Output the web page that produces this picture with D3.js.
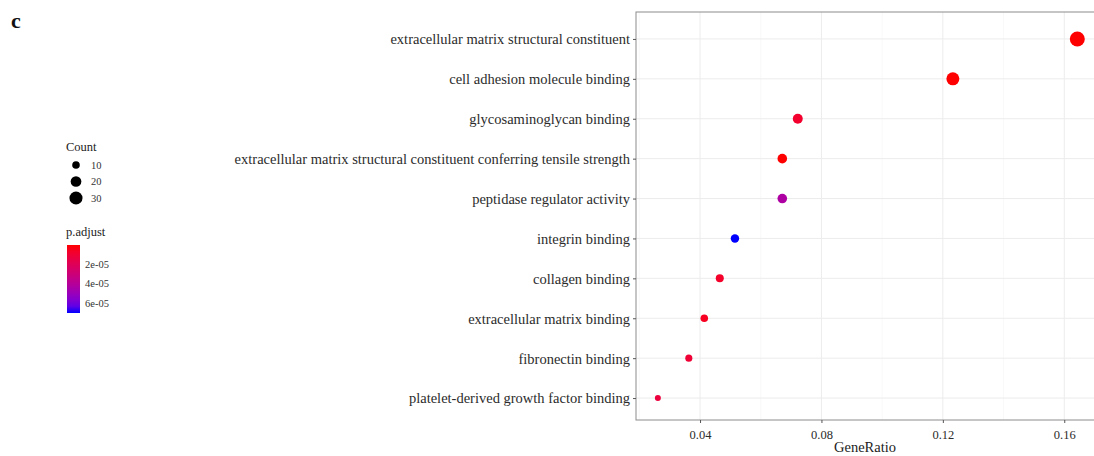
<html>
<head>
<meta charset="UTF-8">
<title>GO enrichment dot plot</title>
<script src="https://d3js.org/d3.v7.min.js"></script>
<style>
    body { margin: 0; background: #fff; font-family: 'Liberation Serif', serif; color: #333; }
    #chart svg { display: block; }
</style>
</head>
<body>
<div id="chart"></div>
<script>
// ***** DATA *****
var terms = [
    "extracellular matrix structural constituent",
    "cell adhesion molecule binding",
    "glycosaminoglycan binding",
    "extracellular matrix structural constituent conferring tensile strength",
    "peptidase regulator activity",
    "integrin binding",
    "collagen binding",
    "extracellular matrix binding",
    "fibronectin binding",
    "platelet-derived growth factor binding"
];
var geneRatio = [0.1643, 0.1233, 0.0722, 0.0671, 0.0671, 0.0515, 0.0465, 0.0414, 0.0363, 0.0261];
var counts    = [32, 24, 14, 13, 13, 10, 9, 8, 7, 5];
var pAdjust   = [1e-12, 2e-09, 8e-06, 5e-08, 4.3e-05, 7.0e-05, 7e-06, 5e-06, 1e-05, 1.2e-05];
var xTicks = [0.04, 0.08, 0.12, 0.16];
var sizeBreaks = [10, 20, 30];
var colorBreaks = [2e-05, 4e-05, 6e-05];

var width = 1094, height = 456;
var panel = { left: 636, right: 1094, top: 12, bottom: 420 };

var svg = d3.select('#chart').append('svg')
    .attr('width', width).attr('height', height);

var x = d3.scaleLinear().domain([0.0189, 0.1698]).range([panel.left, panel.right]);
// rows sit slightly lower than a symmetric layout in the source
var y = d3.scalePoint().domain(terms).range([panel.top + 3, panel.bottom + 2]).padding(0.6);
var r = d3.scaleSqrt().domain([5, 32]).range([3, 7.5]);
var pMin = d3.min(pAdjust), pMax = d3.max(pAdjust);
var color = d3.scaleLinear().domain([pMin, pMax]).range(["#ff0000", "#0000ff"])
    .interpolate(d3.interpolateLab);

var rows = terms.map(function(t, i) {
    return { term: t, ratio: geneRatio[i], count: counts[i], p: pAdjust[i] };
});

// grid
var minor = d3.range(0.02, 0.17, 0.04);
svg.append('g').selectAll('line.minor').data(minor).enter().append('line')
    .attr('x1', function(d) { return x(d); }).attr('x2', function(d) { return x(d); })
    .attr('y1', panel.top).attr('y2', panel.bottom)
    .attr('stroke', '#f4f4f4').attr('stroke-width', 0.6);
svg.append('g').selectAll('line.major').data(xTicks).enter().append('line')
    .attr('x1', function(d) { return x(d); }).attr('x2', function(d) { return x(d); })
    .attr('y1', panel.top).attr('y2', panel.bottom)
    .attr('stroke', '#ececec').attr('stroke-width', 1);
svg.append('g').selectAll('line.h').data(terms).enter().append('line')
    .attr('x1', panel.left).attr('x2', panel.right)
    .attr('y1', function(d) { return y(d); }).attr('y2', function(d) { return y(d); })
    .attr('stroke', '#ececec').attr('stroke-width', 1);

// panel border
svg.append('rect')
    .attr('x', panel.left).attr('y', panel.top)
    .attr('width', panel.right - panel.left + 2).attr('height', panel.bottom - panel.top)
    .attr('fill', 'none').attr('stroke', '#8c8c8c').attr('stroke-width', 1);

// axes
var xAxis = svg.append('g')
    .attr('transform', 'translate(0,' + panel.bottom + ')')
    .call(d3.axisBottom(x).tickValues(xTicks).tickSize(3).tickPadding(7)
        .tickFormat(d3.format('.2f')));
var yAxis = svg.append('g')
    .attr('transform', 'translate(' + panel.left + ',0)')
    .call(d3.axisLeft(y).tickSize(3).tickPadding(3));
[xAxis, yAxis].forEach(function(a) {
    a.select('.domain').remove();
    a.selectAll('.tick line').attr('stroke', '#555');
    a.selectAll('text').attr('font-family', 'Liberation Serif, serif').attr('fill', '#2b2b2b');
});
xAxis.selectAll('text').attr('font-size', 12.5);
yAxis.selectAll('text').attr('font-size', 14.5).attr('dy', '0.34em');

svg.append('text')
    .attr('x', (panel.left + panel.right) / 2).attr('y', 452)
    .attr('text-anchor', 'middle').attr('font-size', 14.5).attr('fill', '#222')
    .text('GeneRatio');

// points
svg.append('g').selectAll('circle').data(rows).enter().append('circle')
    .attr('cx', function(d) { return x(d.ratio); })
    .attr('cy', function(d) { return y(d.term); })
    .attr('r', function(d) { return r(d.count); })
    .attr('fill', function(d) { return color(d.p); });

// panel tag
svg.append('text').attr('x', 11).attr('y', 28)
    .attr('font-size', 22).attr('font-weight', 'bold').attr('fill', '#111')
    .text('c');

// size legend
var lg = svg.append('g').attr('font-family', 'Liberation Serif, serif');
lg.append('text').attr('x', 66).attr('y', 151).attr('font-size', 12.5).attr('fill', '#222').text('Count');
var sy = d3.scalePoint().domain(sizeBreaks).range([165, 198]);
lg.selectAll('circle').data(sizeBreaks).enter().append('circle')
    .attr('cx', 76).attr('cy', function(d) { return sy(d); })
    .attr('r', function(d) { return r(d) * 0.9; }).attr('fill', '#000');
lg.selectAll('text.sz').data(sizeBreaks).enter().append('text')
    .attr('x', 91).attr('y', function(d) { return sy(d) + 3.5; })
    .attr('font-size', 10.5).attr('fill', '#333').text(function(d) { return d; });

// colour legend
lg.append('text').attr('x', 66).attr('y', 236).attr('font-size', 12.5).attr('fill', '#222').text('p.adjust');
var barTop = 245, barBottom = 313;
var cy = d3.scaleLinear().domain([0, pMax]).range([barTop, barBottom]);
var defs = svg.append('defs');
var grad = defs.append('linearGradient').attr('id', 'pgrad')
    .attr('x1', 0).attr('x2', 0).attr('y1', 0).attr('y2', 1);
d3.range(0, 1.01, 0.1).forEach(function(t) {
    grad.append('stop').attr('offset', t)
        .attr('stop-color', color(pMin + t * (pMax - pMin)));
});
lg.append('rect').attr('x', 67).attr('y', barTop).attr('width', 13)
    .attr('height', barBottom - barTop).attr('fill', 'url(#pgrad)');
lg.selectAll('text.cb').data(colorBreaks).enter().append('text')
    .attr('x', 85).attr('y', function(d) { return cy(d) + 3.5; })
    .attr('font-size', 10.5).attr('fill', '#333')
    .text(function(d) { return d3.format('.0e')(d).replace('e-5', 'e-05'); });
</script>
</body>
</html>
